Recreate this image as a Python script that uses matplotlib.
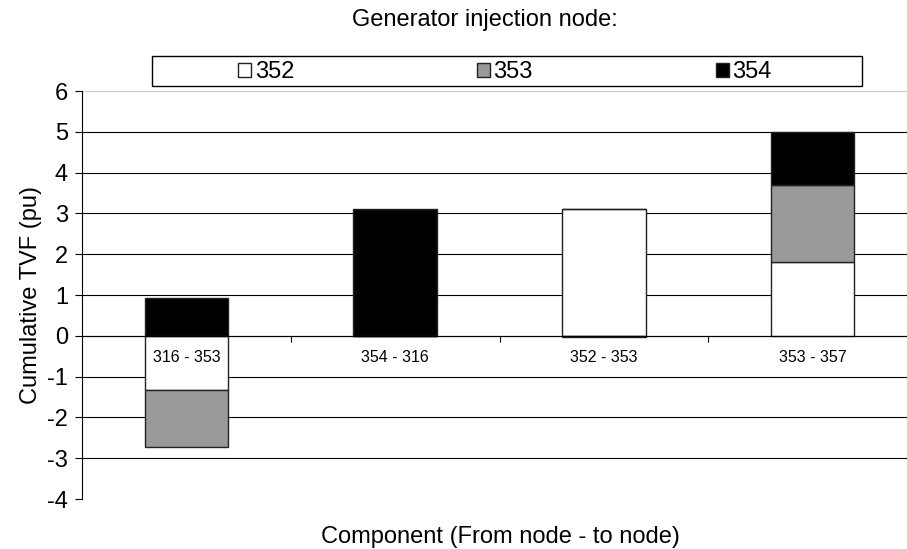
import matplotlib
matplotlib.use("Agg")
import matplotlib.pyplot as plt
import numpy as np
from matplotlib.patches import Rectangle

plt.rcParams['font.family'] = ['Liberation Sans', 'DejaVu Sans']

categories = ["316 - 353", "354 - 316", "352 - 353", "353 - 357"]
series_names = ["352", "353", "354"]
v352 = [-1.32, 0.0, 3.10, 1.82]
v353 = [-1.40, 0.0, 0.0, 1.88]
v354 = [0.93, 3.10, -0.04, 1.30]
yticks = [-4, -3, -2, -1, 0, 1, 2, 3, 4, 5, 6]

colors = ["white", "#999999", "black"]

fig = plt.figure(figsize=(9.07, 5.49), dpi=100)
ax = fig.add_axes([82/907, 1-499/549, 835/907, 408/549])

x = np.arange(len(categories))
pos_bottom = np.zeros(len(categories))
neg_bottom = np.zeros(len(categories))
handles = []
for name, vals, c in zip(series_names, [v352, v353, v354], colors):
    vals = np.array(vals)
    bottoms = np.where(vals >= 0, pos_bottom, neg_bottom)
    b = ax.bar(x, vals, width=0.4, bottom=bottoms, color=c, edgecolor="#222222",
               linewidth=1.0, label=name, zorder=3)
    handles.append(b)
    pos_bottom = pos_bottom + np.where(vals > 0, vals, 0)
    neg_bottom = neg_bottom + np.where(vals < 0, vals, 0)

ax.set_xlim(-0.5, len(categories) - 0.5)
ax.set_ylim(-4, 6)
ax.set_yticks(yticks)
ax.set_yticklabels([str(t) for t in yticks], fontsize=17)
ax.tick_params(axis='y', direction='out', length=5, width=0.8, pad=5)

ax.yaxis.grid(True, color='black', linewidth=0.8, zorder=0)
ax.set_axisbelow(True)
gl = ax.get_ygridlines()
gl[0].set_visible(False)
gl[-1].set_color('#cccccc')

ax.spines['top'].set_visible(False)
ax.spines['right'].set_visible(False)
ax.spines['left'].set_linewidth(0.8)
ax.spines['bottom'].set_position(('data', 0))
ax.spines['bottom'].set_linewidth(0.8)
ax.spines['bottom'].set_zorder(4)

ax.set_xticks(x)
ax.set_xticklabels(categories, fontsize=11.5)
ax.tick_params(axis='x', which='major', length=0, pad=10)
ax.set_xticks(np.arange(0.5, len(categories) - 0.5, 1.0), minor=True)
ax.tick_params(axis='x', which='minor', direction='out', length=4, width=0.8)
ax.xaxis.set_zorder(5)

ax.set_ylabel("Cumulative TVF (pu)", fontsize=17, labelpad=4)
fig.text(500/907, 1-537/549, "Component (From node - to node)", ha='center', va='center', fontsize=17)
fig.text(485/907, 1-20/549, "Generator injection node:", ha='center', va='center', fontsize=17)

fig.patches.append(Rectangle((152/907, 1-86/549), 710/907, 30/549, transform=fig.transFigure,
                             fill=False, edgecolor='black', linewidth=1.0))
leg = fig.legend(handles=handles, labels=series_names, loc='center', bbox_to_anchor=(505/907, 1-72/549),
                 ncol=3, frameon=False, fontsize=17, handlelength=0.55, handleheight=0.55,
                 handletextpad=0.15, columnspacing=7.75, borderpad=0.2)

fig.savefig("out.png", dpi=100)
